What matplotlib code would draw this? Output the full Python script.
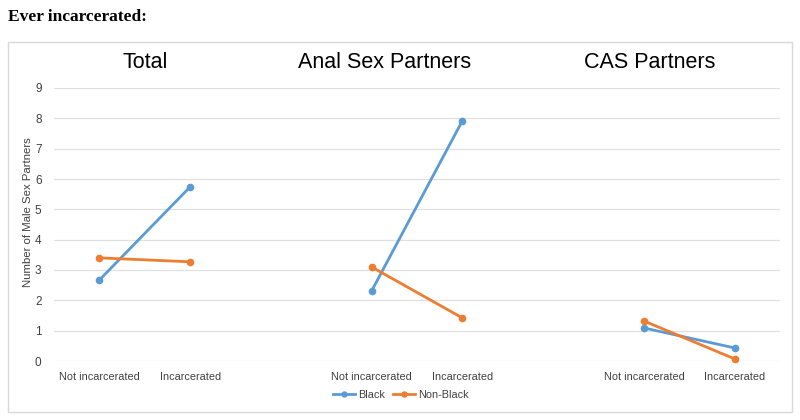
import numpy as np
import matplotlib.pyplot as plt
import matplotlib as mpl
from matplotlib.patches import Rectangle

mpl.rcParams['font.family'] = ['Liberation Sans', 'DejaVu Sans']

panels = ['Total', 'Anal Sex Partners', 'CAS Partners']
groups = ['Not incarcerated', 'Incarcerated']
black = [[2.67, 5.74], [2.31, 7.92], [1.09, 0.43]]
non_black = [[3.40, 3.27], [3.10, 1.42], [1.32, 0.07]]

blue = '#5B9BD5'
orange = '#ED7D31'
title_x = [145, 385, 650]  # px centres of the panel titles

fig = plt.figure(figsize=(8, 4.2), dpi=100)
fig.patch.set_facecolor('white')
fig.patches.append(Rectangle((8 / 800, 1 - 412 / 420), 784 / 800, 370 / 420,
                             transform=fig.transFigure, fill=False,
                             edgecolor='#d9d9d9', linewidth=1))
fig.text(8 / 800, 1 - 17 / 420, 'Ever incarcerated:', family='Liberation Serif',
         fontweight='bold', fontsize=12.5, va='center', ha='left')

ax = fig.add_axes([54 / 800, 1 - 361 / 420, 726 / 800, (361 - 88) / 420])

# each panel takes 2 category slots, with 1 empty slot between panels
ticks = []
ticklabels = []
for i, p in enumerate(panels):
    x = np.array([0, 1]) + i * 3
    ticks += list(x)
    ticklabels += groups
    ax.plot(x, black[i], color=blue, marker='o', markersize=4.5, linewidth=2,
            label='Black' if i == 0 else None, clip_on=False)
    ax.plot(x, non_black[i], color=orange, marker='o', markersize=4.5, linewidth=2,
            label='Non-Black' if i == 0 else None, clip_on=False)
    fig.text(title_x[i] / 800, 1 - 63 / 420, p, ha='center', va='center',
             fontsize=15.5, color='black')

ax.set_xticks(ticks)
ax.set_xticklabels(ticklabels)
ax.set_xlim(-0.5, 7.5)
ax.set_ylim(0, 9)
ax.set_yticks(range(10))
ax.grid(axis='y', color='#e0e0e0', linewidth=0.9)
ax.set_axisbelow(True)
for s in ax.spines.values():
    s.set_visible(False)
ax.tick_params(axis='x', length=0, labelsize=7.8, colors='#404040', pad=8)
ax.tick_params(axis='y', length=0, labelsize=8.5, colors='#404040', pad=9)
ax.set_ylabel('Number of Male Sex Partners', fontsize=8.2, color='#404040')
ax.yaxis.set_label_coords(-0.029, 0.545)

ax.legend(loc='center', bbox_to_anchor=(401 / 800, 1 - 395 / 420),
          bbox_transform=fig.transFigure, ncol=2, frameon=False, fontsize=7.8,
          handlelength=2.0, handletextpad=0.3, columnspacing=0.8, markerscale=0.8,
          labelcolor='#404040')

fig.savefig('out.png', dpi=100)
